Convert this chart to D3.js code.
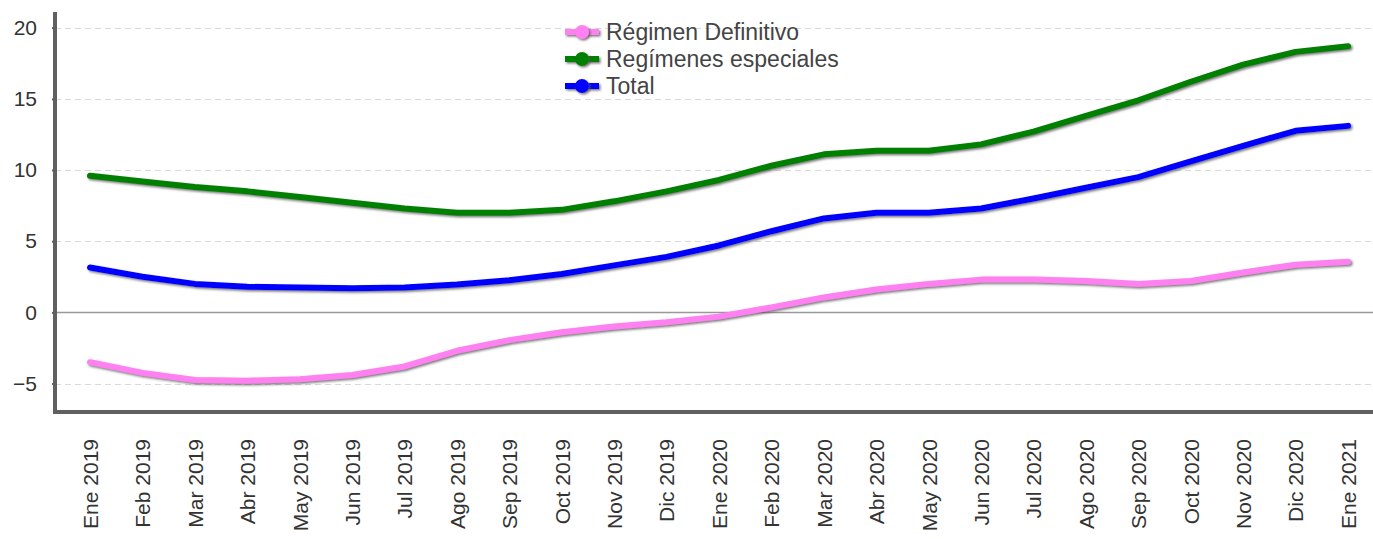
<!DOCTYPE html>
<html>
<head>
<meta charset="utf-8">
<script src="https://cdn.jsdelivr.net/npm/d3@7"></script>
<style>
  body { margin: 0; background: #fff; }
  svg { font-family: "Liberation Sans", Arial, sans-serif; }
</style>
</head>
<body>
<div id="chart"></div>
<script>
// months on the x axis
var months = ["Ene 2019","Feb 2019","Mar 2019","Abr 2019","May 2019","Jun 2019","Jul 2019","Ago 2019","Sep 2019","Oct 2019","Nov 2019","Dic 2019",
              "Ene 2020","Feb 2020","Mar 2020","Abr 2020","May 2020","Jun 2020","Jul 2020","Ago 2020","Sep 2020","Oct 2020","Nov 2020","Dic 2020","Ene 2021"];

var regimenDefinitivo = [-3.5,-4.25,-4.75,-4.8,-4.7,-4.4,-3.8,-2.7,-1.95,-1.4,-1.0,-0.7,-0.3,0.35,1.05,1.6,2.0,2.3,2.3,2.2,2.0,2.2,2.8,3.35,3.55];
var regimenesEspeciales = [9.6,9.2,8.8,8.5,8.1,7.7,7.3,7.0,7.0,7.2,7.8,8.5,9.3,10.3,11.1,11.35,11.35,11.8,12.7,13.8,14.9,16.2,17.4,18.3,18.7];
var total = [3.15,2.5,2.0,1.8,1.75,1.7,1.75,1.95,2.25,2.7,3.3,3.9,4.7,5.7,6.6,7.0,7.0,7.3,8.0,8.75,9.5,10.6,11.7,12.75,13.1];

var yTicks = [-5, 0, 5, 10, 15, 20];

var series = [
  {name: "Régimen Definitivo", values: regimenDefinitivo, color: "#ff80f0"},
  {name: "Regímenes especiales", values: regimenesEspeciales, color: "#008000"},
  {name: "Total", values: total, color: "#0000ff"}
];

var width = 1373, height = 539;
var plotLeft = 55, plotRight = 1373, plotTop = 12, plotBottom = 412;

var svg = d3.select("#chart").append("svg")
    .attr("width", width)
    .attr("height", height);

var x = d3.scalePoint()
    .domain(months)
    .range([90, 1348]);

var y = d3.scaleLinear()
    .domain([-7, 21.1])
    .range([plotBottom, plotTop]);

// shadow filter for the lines (user space, big region so flat lines and
// translated legend items keep it)
var defs = svg.append("defs");
var f = defs.append("filter").attr("id", "shadow")
    .attr("filterUnits", "userSpaceOnUse")
    .attr("x", -1000).attr("y", -1000).attr("width", 3500).attr("height", 2600);
f.append("feDropShadow").attr("dx", 1.5).attr("dy", 1.5).attr("stdDeviation", 0.8)
  .attr("flood-color", "#555").attr("flood-opacity", 0.8);

// gridlines
svg.append("g")
  .selectAll("line")
  .data(yTicks)
  .enter()
  .append("line")
    .attr("x1", plotLeft)
    .attr("x2", plotRight)
    .attr("y1", function(d){ return Math.round(y(d)) + 0.5; })
    .attr("y2", function(d){ return Math.round(y(d)) + 0.5; })
    .attr("stroke", function(d){ return d == 0 ? "#999" : "#d9d9d9"; })
    .attr("stroke-width", function(d){ return d == 0 ? 1.5 : 1.2; })
    .attr("stroke-dasharray", function(d){ return d == 0 ? null : "6,4"; });

// y axis
var yAxis = svg.append("g")
    .attr("transform", "translate(" + plotLeft + ",0)")
    .call(d3.axisLeft(y).tickValues(yTicks).tickSize(3).tickPadding(15));
yAxis.select(".domain").remove();
yAxis.selectAll(".tick line").attr("stroke", "#606060").attr("stroke-width", 2);
yAxis.selectAll("text").attr("font-size", "21px").attr("fill", "#333");

// x axis
var xAxis = svg.append("g")
    .attr("transform", "translate(0," + plotBottom + ")")
    .call(d3.axisBottom(x).tickSize(0));
xAxis.select(".domain").remove();
xAxis.selectAll("text")
    .attr("font-size", "21px")
    .attr("fill", "#333")
    .attr("transform", "rotate(-90)")
    .attr("text-anchor", "end")
    .attr("x", -27)
    .attr("y", 0)
    .attr("dy", "0.35em");

// axis frame lines
svg.append("line")
    .attr("x1", plotLeft).attr("x2", plotLeft)
    .attr("y1", plotTop).attr("y2", plotBottom + 2)
    .attr("stroke", "#606060").attr("stroke-width", 4);
svg.append("line")
    .attr("x1", plotLeft - 2).attr("x2", plotRight)
    .attr("y1", plotBottom).attr("y2", plotBottom)
    .attr("stroke", "#606060").attr("stroke-width", 4);

// lines
var line = d3.line()
    .x(function(d, i){ return x(months[i]); })
    .y(function(d){ return y(d); });

svg.append("g")
  .selectAll("path")
  .data(series)
  .enter()
  .append("path")
    .attr("d", function(s){ return line(s.values); })
    .attr("fill", "none")
    .attr("stroke", function(s){ return s.color; })
    .attr("stroke-width", 6)
    .attr("stroke-linecap", "round")
    .attr("stroke-linejoin", "round")
    .attr("filter", "url(#shadow)");

// legend
var legend = svg.append("g").attr("transform", "translate(565,32)");
var item = legend.selectAll("g")
    .data(series)
    .enter()
    .append("g")
    .attr("transform", function(d, i){ return "translate(0," + (i * 27) + ")"; });
item.append("line")
    .attr("x1", 0).attr("x2", 34).attr("y1", 0).attr("y2", 0)
    .attr("stroke", function(d){ return d.color; })
    .attr("stroke-width", 6)
    .attr("filter", "url(#shadow)");
item.append("circle")
    .attr("cx", 17).attr("cy", 0).attr("r", 7)
    .attr("fill", function(d){ return d.color; })
    .attr("filter", "url(#shadow)");
item.append("text")
    .attr("x", 41)
    .attr("y", 0)
    .attr("dy", "0.35em")
    .attr("font-size", "23px")
    .attr("fill", "#444")
    .text(function(d){ return d.name; });
</script>
</body>
</html>
